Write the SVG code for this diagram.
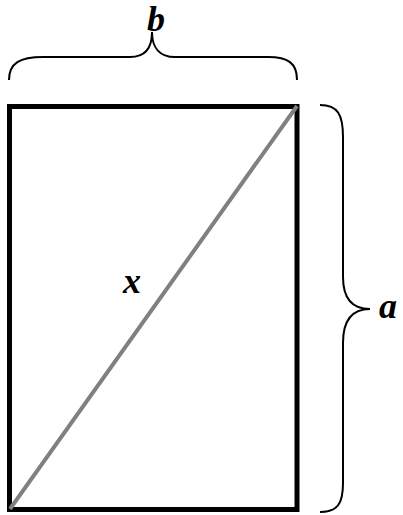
<svg xmlns="http://www.w3.org/2000/svg" width="403" height="515" viewBox="0 0 403 515">
<style>
.brace{fill:none;stroke:#000;stroke-width:2}
.lbl{font-family:"Liberation Serif",serif;font-weight:bold;font-style:italic;font-size:36px;fill:#000}
</style>
<rect width="403" height="515" fill="#fff"/>
<g id="rect">
<rect x="9.5" y="106.5" width="287.5" height="403" fill="none" stroke="#000" stroke-width="5"/>
</g>
<g id="connectors">
<line x1="10" y1="509" x2="297" y2="106" stroke="#808080" stroke-width="4"/>
</g>
<g id="brace-b">
<path class="brace" d="M9,80 C9,63 20,57 43,57 L130,57 C145,57 152,48 152,32 C152,48 160,57 175,57 L268,57 C288,57 297,63 297,80"/>
<text class="lbl" x="156" y="31" text-anchor="middle">b</text>
</g>
<g id="brace-a">
<path class="brace" d="M320,105 C338,105 343,115 343,137 L343,277 C343,298 352,309 370,309 C352,309 343,320 343,343 L343,483 C343,503 338,512 320,512"/>
<text class="lbl" x="388" y="318" text-anchor="middle">a</text>
</g>
<g id="label-x">
<text class="lbl" x="132" y="293" text-anchor="middle">x</text>
</g>
</svg>
